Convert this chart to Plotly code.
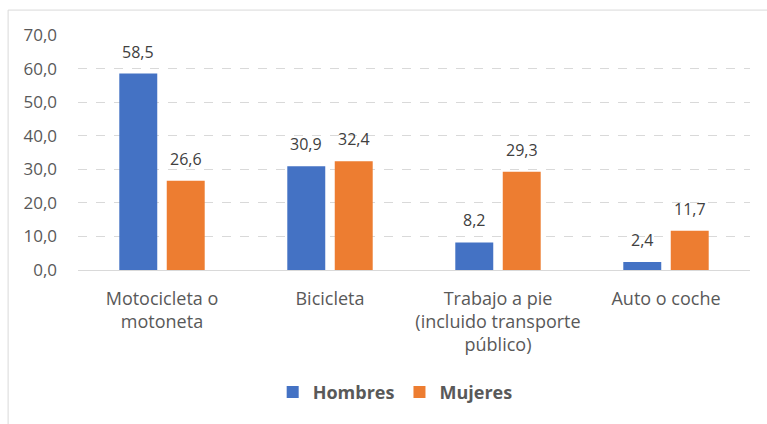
import plotly.graph_objects as go

categories = ["Motocicleta o<br>motoneta", "Bicicleta", "Trabajo a pie<br>(incluido transporte<br>público)", "Auto o coche"]
hombres = [58.5, 30.9, 8.2, 2.4]
mujeres = [26.6, 32.4, 29.3, 11.7]
y_ticks = [0, 10, 20, 30, 40, 50, 60, 70]

font_family = "Open Sans, Liberation Sans, sans-serif"
colors = {"Hombres": "#4472C4", "Mujeres": "#ED7D31"}

fig = go.Figure()
for name, vals in [("Hombres", hombres), ("Mujeres", mujeres)]:
    fig.add_trace(go.Bar(name="<b>" + name + "</b>", x=categories, y=vals,
                         marker_color=colors[name], marker_line_width=0))

annotations = []
slot_px = 23.75
for shift, vals in [(-slot_px, hombres), (slot_px, mujeres)]:
    for c, v in zip(categories, vals):
        annotations.append(dict(x=c, y=v, xref="x", yref="y", text=f"{v:.1f}".replace(".", ","),
                                showarrow=False, xshift=shift, yanchor="bottom", yshift=9,
                                font=dict(size=16, color="#404040", family=font_family)))

fig.update_layout(
    width=767, height=424,
    margin=dict(l=78, r=17, t=35, b=154),
    paper_bgcolor="white", plot_bgcolor="white",
    separators=",.",
    barmode="group", bargap=0.435, bargroupgap=0.2,
    font=dict(family=font_family, color="#595959", size=17),
    showlegend=True,
    legend=dict(orientation="h", x=0.472, xanchor="center", y=-0.52, yanchor="middle",
                font=dict(size=18, color="#595959", family=font_family),
                traceorder="normal"),
    xaxis=dict(showline=True, linecolor="#d9d9d9", linewidth=1, ticks="",
               tickfont=dict(size=18, color="#595959"), ticklabelstandoff=12),
    yaxis=dict(range=[0, 70], tickvals=y_ticks, tickformat=".1f", showgrid=True,
               gridcolor="#d9d9d9", griddash="dash", gridwidth=1, zeroline=False,
               showline=False, tickfont=dict(size=17, color="#595959"),
               ticks="", ticklabelstandoff=20),
    annotations=annotations,
    shapes=[dict(type="rect", xref="paper", yref="paper", x0=-0.104, x1=1.1, y0=-0.8, y1=1.106,
                 line=dict(color="#d9d9d9", width=1), fillcolor="rgba(0,0,0,0)", layer="below")],
)
fig.write_html("out.html", config={"displayModeBar": False},
               post_script="document.body.style.margin='0';")
